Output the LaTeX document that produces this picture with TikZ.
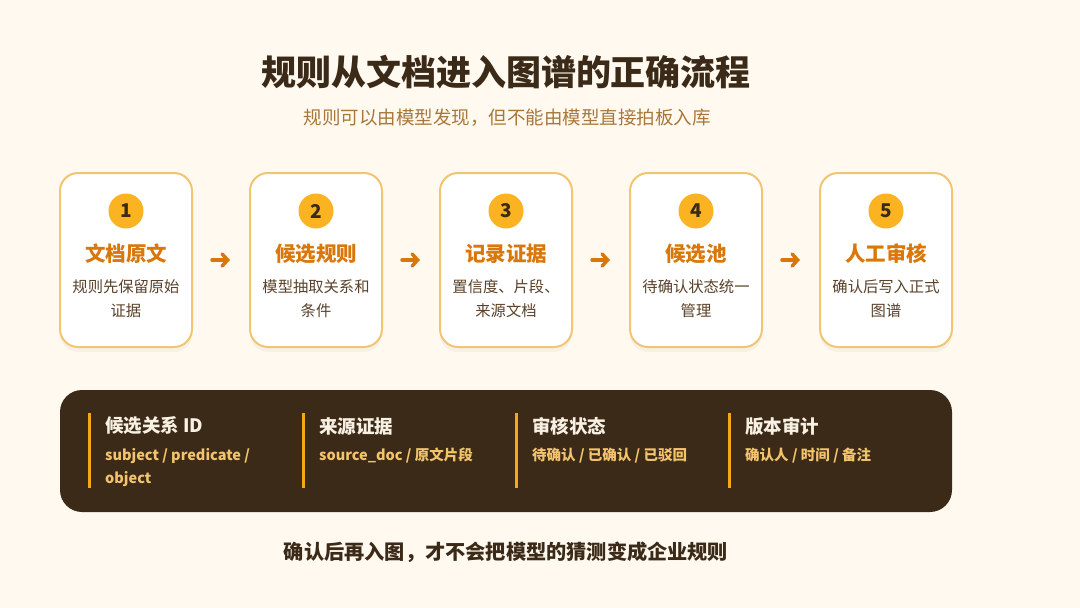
\documentclass[tikz,border=0pt]{standalone}
\usepackage{fontspec}
\setmainfont{Noto Sans CJK SC}
\usetikzlibrary{shadows,arrows.meta}
\definecolor{bg}{HTML}{FFF9EF}
\definecolor{dark}{HTML}{3C2A18}
\definecolor{sub}{HTML}{A8773A}
\definecolor{cardborder}{HTML}{F2C572}
\definecolor{orangeT}{HTML}{D9770A}
\definecolor{circ}{HTML}{FBB321}
\definecolor{desc}{HTML}{5A4129}
\definecolor{bar}{HTML}{F5A814}
\definecolor{cream}{HTML}{F8F0E2}
\definecolor{gold}{HTML}{F3C46C}
\tikzset{
  card/.style={draw=cardborder, line width=2pt, fill=white, rounded corners=18pt,
    minimum width=132pt, minimum height=174pt, inner sep=0pt,
    drop shadow={opacity=0.07, shadow xshift=0pt, shadow yshift=-5pt}},
  numc/.style={circle, fill=circ, minimum size=35pt, inner sep=0pt,
    text=dark, font=\fontsize{19}{19}\selectfont\bfseries},
  ctitle/.style={text=orangeT, font=\fontsize{20.5}{22}\selectfont\bfseries},
  cdesc/.style={text=desc, align=center, font=\fontsize{15.3}{24}\selectfont},
  flow/.style={draw=orangeT, line width=3.5pt, line cap=round,
    -{Straight Barb[length=5.5pt,width=12pt,line cap=round]}, shorten <=19pt, shorten >=19pt},
  vbar/.style={draw=bar, line width=3pt},
  phead/.style={anchor=west, text=cream, inner sep=0pt, font=\fontsize{18.5}{20}\selectfont\bfseries},
  psub/.style={anchor=north west, text=gold, inner sep=0pt, align=left,
    font=\fontsize{14.5}{23}\selectfont\bfseries},
}
\begin{document}
\begin{tikzpicture}[x=1pt,y=-1pt]
\fill[bg] (0,0) rectangle (1080,608);
\useasboundingbox (0,0) rectangle (1080,608);

\node[text=dark, font=\fontsize{35}{38}\selectfont\bfseries] (title) at (506,72) {规则从文档进入图谱的正确流程};
\node[text=sub, font=\fontsize{18.5}{20}\selectfont] (subtitle) at (507,118) {规则可以由模型发现，但不能由模型直接拍板入库};

\foreach \i/\t/\d [count=\k from 0] in {
  1/文档原文/{规则先保留原始\\证据},
  2/候选规则/{模型抽取关系和\\条件},
  3/记录证据/{置信度、片段、\\来源文档},
  4/候选池/{待确认状态统一\\管理},
  5/人工审核/{确认后写入正式\\图谱}} {
  \pgfmathsetmacro{\cx}{126+190*\k}
  \node[card] (card\i) at (\cx,260) {};
  \node[numc] (num\i) at (\cx,211) {\i};
  \node[ctitle] (ct\i) at (\cx,254) {\t};
  \node[cdesc] (cd\i) at (\cx,299) {\d};
}
\foreach \a/\b in {1/2,2/3,3/4,4/5}
  \draw[flow] (card\a.east) -- (card\b.west);

\node[fill=dark, rounded corners=22pt, minimum width=892pt, minimum height=122pt, inner sep=0pt] (panel) at (506,451) {};

\foreach \x/\h/\s [count=\k] in {
  89/{候选关系 ID}/{subject / predicate /\\object},
  303/{来源证据}/{source\_doc / 原文片段},
  516/{审核状态}/{待确认 / 已确认 / 已驳回},
  729/{版本审计}/{确认人 / 时间 / 备注}} {
  \coordinate (bt\k) at (\x,413);
  \coordinate (bb\k) at (\x,488);
  \draw[vbar] (bt\k) -- (bb\k);
  \node[phead] (ph\k) at (\x+16,426) {\h};
  \node[psub] (ps\k) at (\x+16,448) {\s};
}

\node[text=dark, font=\fontsize{20.2}{22}\selectfont\bfseries] (footer) at (506,552) {确认后再入图，才不会把模型的猜测变成企业规则};
\end{tikzpicture}
\end{document}
